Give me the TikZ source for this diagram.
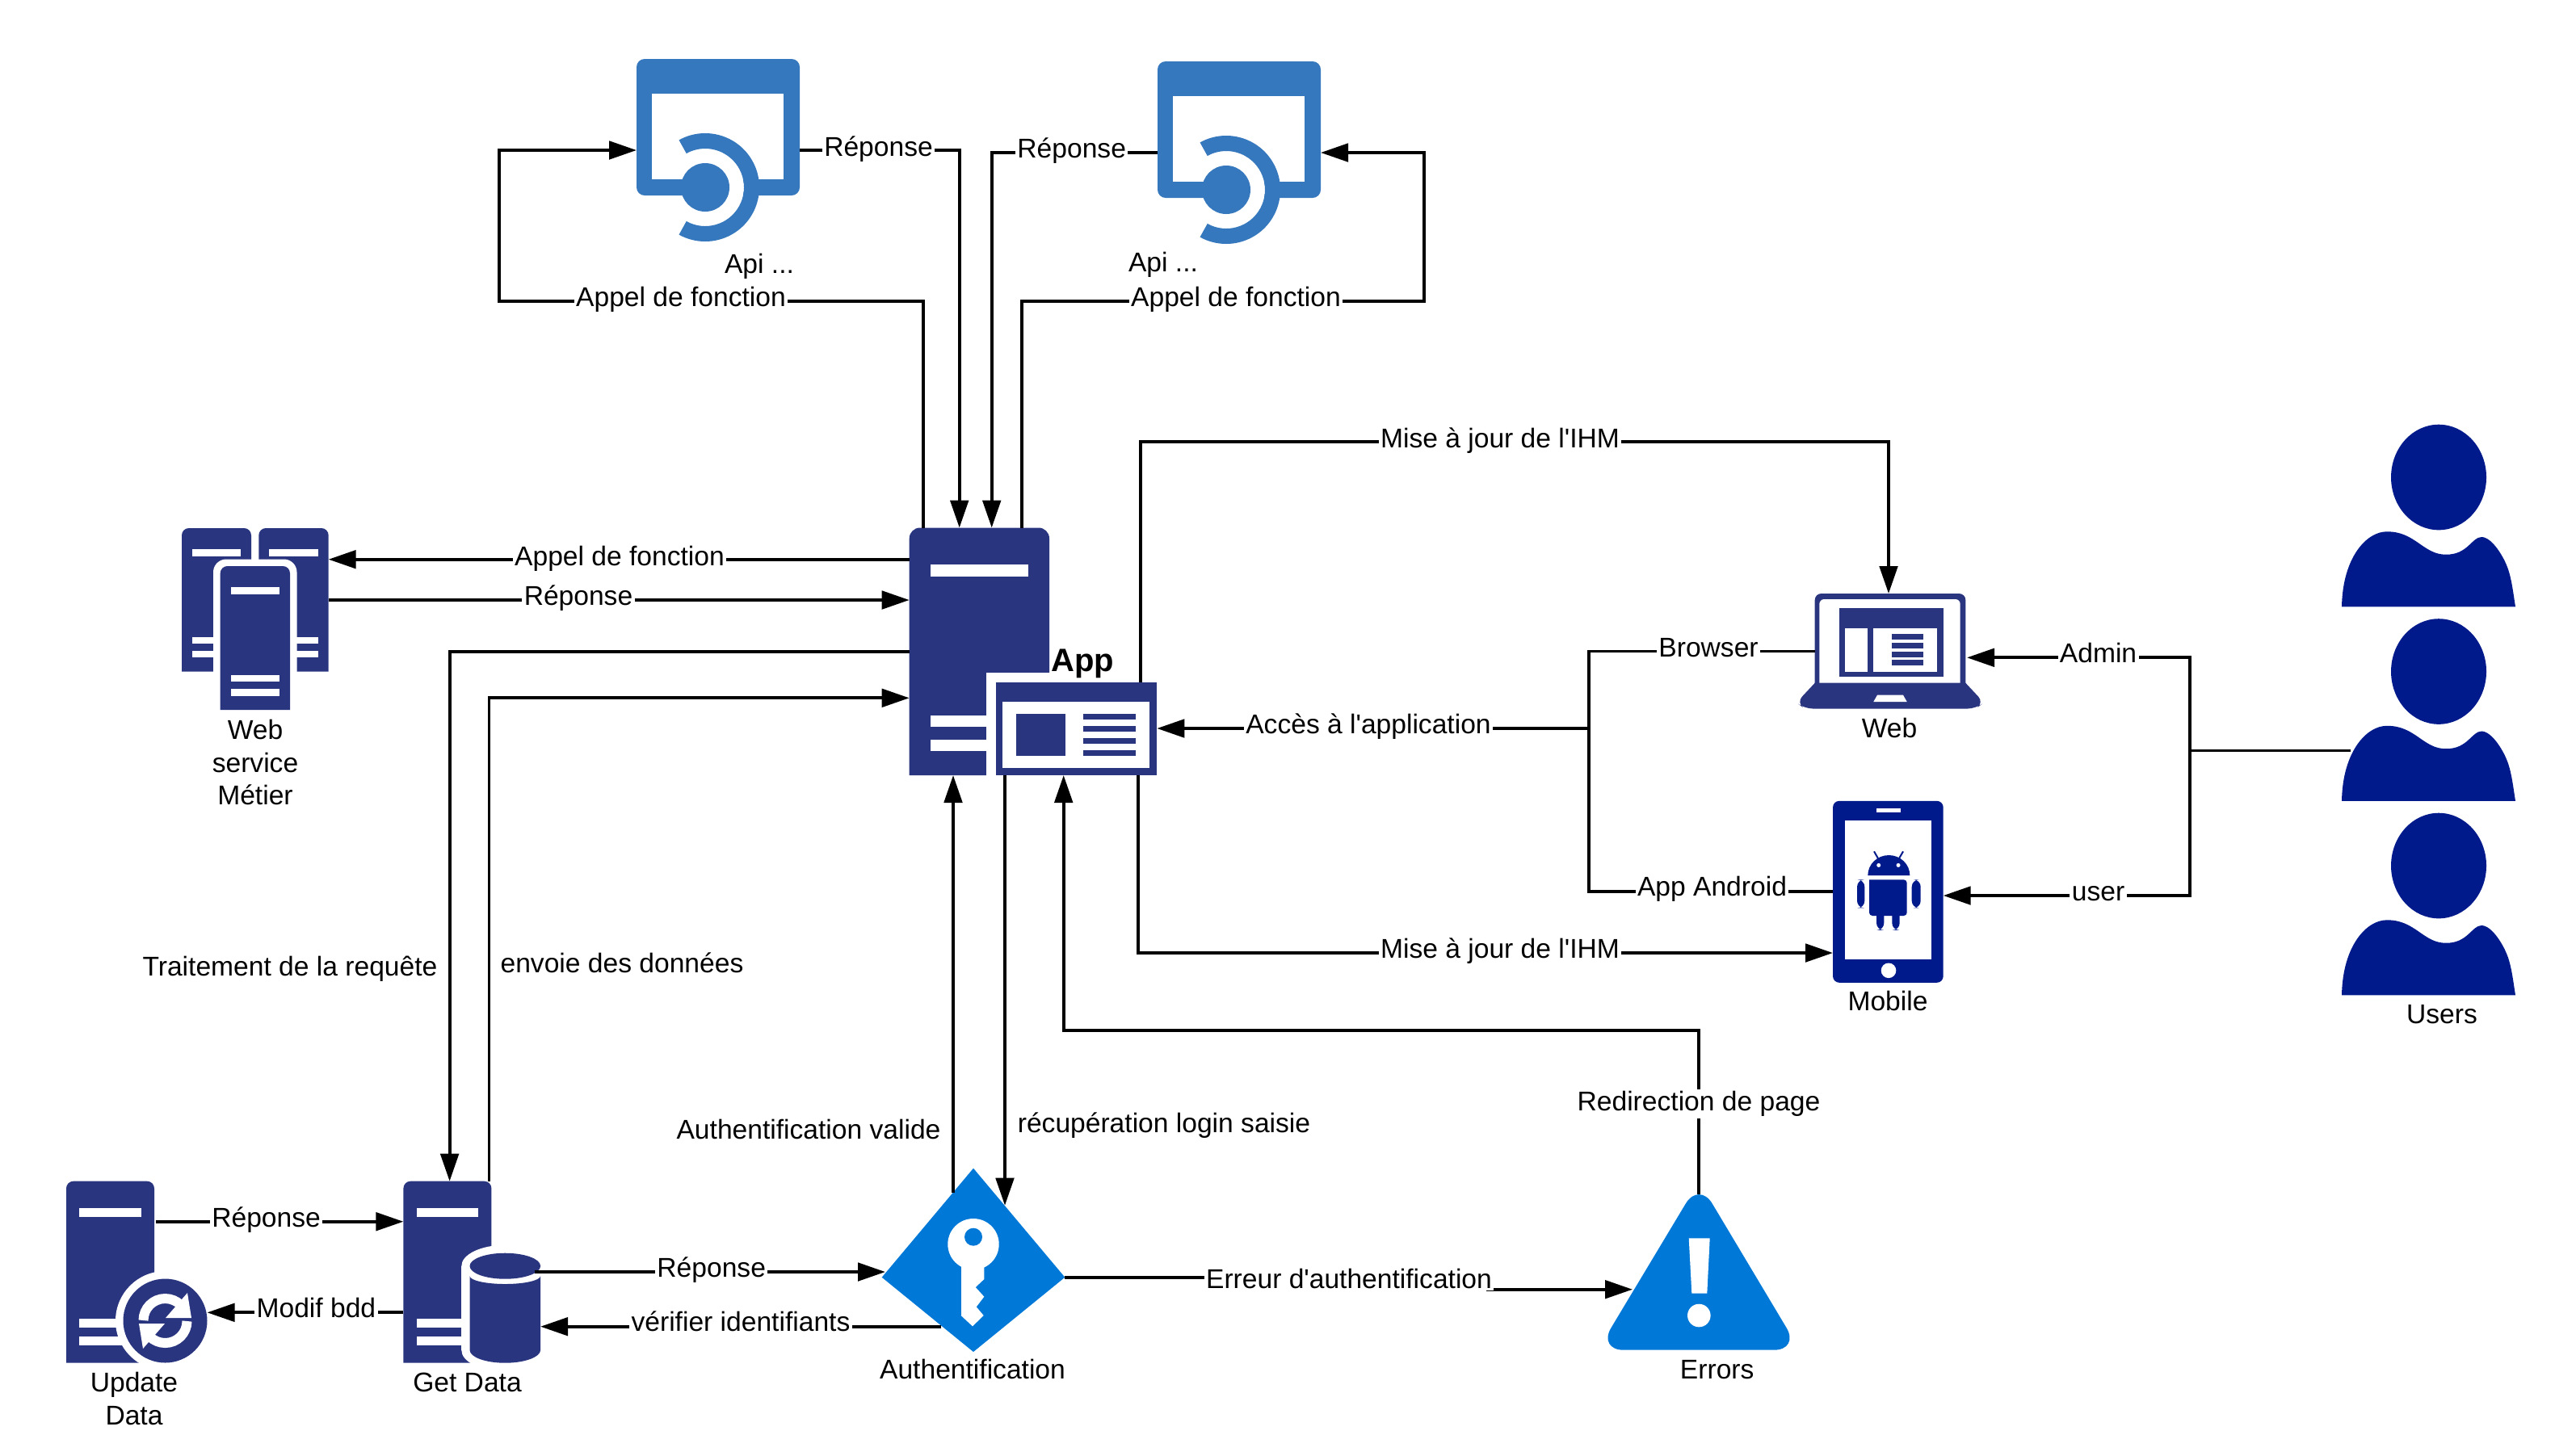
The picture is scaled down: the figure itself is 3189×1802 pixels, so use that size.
\documentclass[tikz,border=0pt]{standalone}
\usepackage{fontspec}
\setmainfont{Liberation Sans}
\usetikzlibrary{arrows.meta,fit}

\definecolor{navy}{HTML}{2A3580}
\definecolor{deepblue}{HTML}{001A8C}
\definecolor{apiblue}{HTML}{3578BE}
\definecolor{alertblue}{HTML}{0078D7}

\tikzset{
  iconbox/.style={inner sep=0pt,outer sep=0pt},
  flow/.style={line width=0.95pt,-{Triangle[length=8.5pt,width=5.6pt]}},
  plainflow/.style={line width=0.95pt},
  lab/.style={fill=white,inner sep=0.6pt,font=\fontsize{8.4}{10.1}\selectfont},
  txt/.style={inner sep=0pt,align=center,font=\fontsize{8.4}{10.1}\selectfont}
}

% x y width height radius
\newcommand{\serverbody}[5]{%
  \begin{scope}[shift={(#1,#2)},xscale=#3,yscale=#4]
    \fill[navy] (0,1) [rounded corners=#5] -- (0,0) -- (1,0) [sharp corners] -- (1,1) -- cycle;
    \fill[white] (.15,.147) rectangle (.85,.196);
    \fill[white] (.15,.757) rectangle (.85,.805);
    \fill[white] (.15,.855) rectangle (.85,.902);
  \end{scope}}

% x y of the top left corner shift
\newcommand{\apiicon}[2]{%
  \begin{scope}[shift={(#1,#2)}]
    \fill[apiblue,rounded corners=2.5pt] (788,73) rectangle (990,242);
    \fill[white] (807,116) rectangle (970,222);
    \fill[white] (873,232) -- ++(-119:48) arc[start angle=-119,end angle=119,radius=48] -- cycle;
    \fill[apiblue] (873,232) circle[radius=30];
    \fill[apiblue] (873,232) ++(-119:67) arc[start angle=-119,end angle=119,radius=67]
      -- ++(119:-19) arc[start angle=119,end angle=-119,radius=48] -- cycle;
  \end{scope}}

\begin{document}
\begin{tikzpicture}[x=0.25pt,y=-0.25pt]
  \useasboundingbox (0,0) rectangle (3189,1802);

  % Apis
  \apiicon{0}{0}
  \apiicon{645}{3}
  \node[iconbox,fit={(788,73) (990,242)}] (api1) {};
  \node[iconbox,fit={(1433,76) (1635,245)}] (api2) {};

  % App
  \serverbody{1125.7}{653.5}{173.3}{306.5}{3.3pt}
  \fill[white] (1221,833.3) rectangle (1300,961);
  \fill[navy] (1233,844.7) rectangle (1432.3,960);
  \fill[white] (1241,869) rectangle (1423,951.3);
  \fill[navy] (1258,884) rectangle (1319,935.7);
  \foreach \ya in {884,899,914,929}
    \fill[navy] (1341,\ya) rectangle (1406,\ya+7);
  \node[iconbox,fit={(1125.7,653.5) (1299,960)}] (appserver) {};
  \node[iconbox,fit={(1233,844.7) (1432.3,960)}] (appweb) {};

  % Web service
  \serverbody{225}{654}{86}{177.7}{2.2pt}
  \serverbody{320.3}{654}{86.4}{177.7}{2.2pt}
  \fill[white,rounded corners=4pt] (264,692.5) rectangle (367.5,890);
  \serverbody{272.7}{701}{86.3}{178}{2.2pt}
  \node[iconbox,fit={(225,654) (406.7,879)}] (service) {};

  % Update data
  \serverbody{82}{1462.7}{109}{225}{2.2pt}
  \fill[white] (204.5,1635.5) circle[radius=61.5];
  \fill[navy] (204.5,1635.5) circle[radius=52];
  \draw[white,line width=3pt] (177.5,1635) arc[start angle=180,end angle=315,radius=27];
  \draw[white,line width=3pt] (231.5,1636) arc[start angle=0,end angle=135,radius=27];
  \fill[white] (232,1601) -- (237,1632) -- (205,1632) -- cycle;
  \fill[white] (177,1670) -- (172,1639) -- (204,1639) -- cycle;
  \node[iconbox,fit={(82,1462.7) (256.5,1687.7)}] (update) {};
  \coordinate (updateout) at (193.4,1512.7);

  % Get data
  \serverbody{499.4}{1462.7}{109}{225}{2.2pt}
  \fill[white] (625.3,1567.7) ellipse[x radius=54,y radius=26];
  \fill[white] (571.3,1567.7) rectangle (679.3,1672);
  \fill[white] (625.3,1672) ellipse[x radius=54,y radius=26];
  \fill[navy] (625.3,1567.7) ellipse[x radius=43.8,y radius=16];
  \fill[navy] (581.5,1580) arc[start angle=180,end angle=0,x radius=43.8,y radius=10]
    -- (669.1,1671.7) arc[start angle=0,end angle=180,x radius=43.8,y radius=16] -- cycle;
  \node[iconbox,fit={(499.4,1462.7) (669.1,1687.7)}] (getdata) {};
  \coordinate (getdataout) at (662,1575);

  % Authentification
  \fill[alertblue] (1205,1446.7) -- (1318.3,1581.7) -- (1205,1674) -- (1091.7,1581.7) -- cycle;
  \fill[white] (1205,1540.7) circle[radius=31.7];
  \fill[white] (1190,1560) -- (1190,1629.3) -- (1204,1642.3) -- (1217.7,1629) -- (1208.7,1618.3)
    -- (1218.3,1605.7) -- (1207.7,1594) -- (1218.3,1584) -- (1218.3,1560) -- cycle;
  \fill[alertblue] (1205,1531.7) circle[radius=11];
  \node[iconbox,fit={(1091.7,1446.7) (1318.3,1674)}] (auth) {};
  \coordinate (authup) at (1180,1477);
  \coordinate (authdown) at (1244,1492.7);
  \coordinate (authin) at (1096,1575);
  \coordinate (authout) at (1165,1642.7);

  % Errors
  \fill[alertblue,rounded corners=8pt] (2103.3,1463) -- (2228,1671.7) -- (1978,1671.7) -- cycle;
  \fill[white] (2090.7,1533.3) -- (2116.7,1533.3) -- (2113.3,1601.7) -- (2094.3,1601.7) -- cycle;
  \fill[white] (2103.3,1629) circle[radius=14.3];
  \node[iconbox,fit={(1990,1479) (2215.7,1671.7)}] (errors) {};
  \coordinate (errorsin) at (2021,1596.7);

  % Web
  \fill[navy] (2246.7,846.4) [rounded corners=2pt] -- (2246.7,735) -- (2433.3,735) [sharp corners] -- (2433.3,846.4) -- cycle;
  \fill[white] (2252.3,846) [rounded corners=1.5pt] -- (2252.3,742) -- (2426.7,742) [sharp corners] -- (2426.7,846) -- cycle;
  \fill[navy] (2276.7,752.9) rectangle (2405.7,838.2);
  \fill[white] (2284,777.9) rectangle (2312,831.8);
  \fill[white] (2319.3,777.9) rectangle (2398,831.8);
  \foreach \ya in {785,796,807,817}
    \fill[navy] (2342,\ya) rectangle (2381,\ya+7);
  \fill[navy] (2246.7,845.7) -- (2433.3,845.7) [rounded corners=2.5pt] -- (2456,870) -- (2446,877.5)
    -- (2234,877.5) -- (2224,870) [sharp corners] -- cycle;
  \fill[white] (2324,860.7) -- (2356,860.7) -- (2360.7,869) -- (2319.3,869) -- cycle;
  \node[iconbox,fit={(2227,735) (2435,877.5)}] (web) {};
  \coordinate (webin) at (2246.7,806.4);

  % Mobile
  \fill[deepblue,rounded corners=2pt] (2269,991.8) rectangle (2405.7,1216.8);
  \fill[white] (2284,1016) rectangle (2390.7,1187.5);
  \fill[white] (2323,1000.7) rectangle (2353,1005.7);
  \fill[white] (2338,1201.8) circle[radius=9.3];
  \fill[deepblue] (2312.3,1084) arc[start angle=180,end angle=360,x radius=26,y radius=25] -- cycle;
  \draw[deepblue,line width=0.5pt] (2320,1054.3) -- (2325,1063);
  \draw[deepblue,line width=0.5pt] (2356,1054.3) -- (2351,1063);
  \fill[white] (2325.7,1071.4) circle[radius=2.5];
  \fill[white] (2350,1071.4) circle[radius=2.5];
  \fill[deepblue,rounded corners=1pt] (2314,1089.3) -- (2314,1134) -- (2360.7,1134) -- (2360.7,1089.3) [sharp corners] -- cycle;
  \fill[deepblue,rounded corners=2.2pt] (2299,1089.3) rectangle (2308.3,1124.3);
  \fill[deepblue,rounded corners=2.2pt] (2366.7,1089.3) rectangle (2377.7,1124.3);
  \fill[deepblue,rounded corners=2.2pt] (2323,1120) rectangle (2332.3,1151.8);
  \fill[deepblue,rounded corners=2.2pt] (2342.3,1120) rectangle (2351.7,1151.8);
  \node[iconbox,fit={(2269,991.8) (2405.7,1216.8)}] (mobile) {};

  % Users
  \foreach \ya in {0,240.5,481}{
    \fill[deepblue] (3019,591+\ya) ellipse[x radius=59,y radius=65.3];
    \fill[deepblue] (2899,751.3+\ya) .. controls (2900,690+\ya) and (2930,658+\ya) .. (2955,658.3+\ya)
      .. controls (2990,658+\ya) and (3000,687+\ya) .. (3028,686.7+\ya)
      .. controls (3055,687+\ya) and (3060,665+\ya) .. (3072,665+\ya)
      .. controls (3085,665+\ya) and (3100,690+\ya) .. (3105,705+\ya)
      .. controls (3110,720+\ya) and (3112,740+\ya) .. (3114,751.3+\ya) -- cycle;
  }
  \coordinate (users) at (2910,929.5);

  % Top loops
  \draw[flow] (api1.east |- 0,186) -| (1187.7,0 |- appserver.north);
  \draw[flow] (api2.west |- 0,189) -| (1227.7,0 |- appserver.north);
  \draw[flow] (1143,0 |- appserver.north) |- (618,373) |- (api1.west |- 0,186);
  \draw[flow] (1265.3,0 |- appserver.north) |- (1763,373) |- (api2.east |- 0,189);

  % Web service and data
  \draw[flow] (appserver.west |- 0,692.7) -- (service.east |- 0,692.7);
  \draw[flow] (service.east |- 0,743) -- (appserver.west |- 0,743);
  \draw[flow] (appserver.west |- 0,807.3) -| (556.6,0 |- getdata.north);
  \draw[flow] (605.5,0 |- getdata.north) |- (appserver.west |- 0,864.3);
  \draw[flow] (updateout) -- (getdata.west |- 0,1512.7);
  \draw[flow] (getdata.west |- 0,1625.3) -- (update.east |- 0,1625.3);
  \draw[flow] (getdataout) -- (authin);
  \draw[flow] (authout) -- (getdata.east |- 0,1642.7);

  % Authentification and errors
  \draw[flow] (authup) -- (1180,0 |- appserver.south);
  \draw[flow] (1244,0 |- appweb.south) -- (authdown);
  \draw[flow] (auth.east |- 0,1581.7) -- (1842,1581.7) -- (1842,1596.7) -- (errorsin);
  \draw[flow] (errors.north) |- (1316.7,1276) -- (1316.7,0 |- appweb.south);

  % Update of the screens
  \draw[flow] (1412.3,0 |- appweb.north) |- (2338,547) -- (2338,0 |- web.north);
  \draw[flow] (1409.3,0 |- appweb.south) |- (mobile.west |- 0,1180);

  % Browser and mobile access
  \draw[plainflow] (webin) -| (1967,1103.6) -- (mobile.west |- 0,1103.6);
  \draw[flow] (1967,902) -- (appweb.east |- 0,902);

  % Users
  \draw[flow] (users) -| (2711,814.3) -- (web.east |- 0,814.3);
  \draw[flow] (2711,929.5) |- (mobile.east |- 0,1109);

  % Connector labels
  \node[lab] (lbl1) at (1087.5,184.5) {Réponse};
  \node[lab] (lbl2) at (1326.7,186.5) {Réponse};
  \node[lab] (lbl3) at (843,371) {Appel de fonction};
  \node[lab] (lbl4) at (1530,371) {Appel de fonction};
  \node[lab] (lbl5) at (767,692) {Appel de fonction};
  \node[lab] (lbl6) at (716,741) {Réponse};
  \node[lab] (lbl7) at (329.6,1511) {Réponse};
  \node[lab] (lbl8) at (391.4,1619) {Modif bdd};
  \node[lab] (lbl9) at (880.7,1573) {Réponse};
  \node[lab] (lbl10) at (917,1636) {vérifier identifiants};
  \node[lab] (lbl11) at (1670,1583) {Erreur d\textquotesingle authentification};
  \node[lab] (lbl12) at (2103,1367) {Redirection de page};
  \node[lab] (lbl13) at (1857,546) {Mise à jour de l\textquotesingle IHM};
  \node[lab] (lbl14) at (1857,1178) {Mise à jour de l\textquotesingle IHM};
  \node[lab] (lbl15) at (1694,900) {Accès à l\textquotesingle application};
  \node[lab] (lbl16) at (2115,802) {Browser};
  \node[lab] (lbl17) at (2119.5,1101) {App Android};
  \node[lab] (lbl18) at (2597.5,808) {Admin};
  \node[lab] (lbl19) at (2597.5,1107) {user};

  % Free labels
  \node[txt] (txt1) at (359,1200) {Traitement de la requête};
  \node[txt] (txt2) at (770,1192) {envoie des données};
  \node[txt] (txt3) at (1001,1398) {Authentification valide};
  \node[txt] (txt4) at (1441,1394) {récupération login saisie};

  % Icon names
  \node[txt] (apiname1) at (940,329.5) {Api ...};
  \node[txt] (apiname2) at (1440,327.5) {Api ...};
  \node[txt,font=\fontsize{10}{12}\selectfont\bfseries] (appname) at (1340,822) {App};
  \node[txt] (servicename) at (316,944) {Web\\service\\Métier};
  \node[txt] (updatename) at (166,1732) {Update\\Data};
  \node[txt] (getname) at (578.5,1712) {Get Data};
  \node[txt] (authname) at (1204,1695) {Authentification};
  \node[txt] (errorsname) at (2125.7,1696) {Errors};
  \node[txt] (webname) at (2339,901) {Web};
  \node[txt] (mobilename) at (2337,1239) {Mobile};
  \node[txt] (usersname) at (3023,1256) {Users};
\end{tikzpicture}
\end{document}
